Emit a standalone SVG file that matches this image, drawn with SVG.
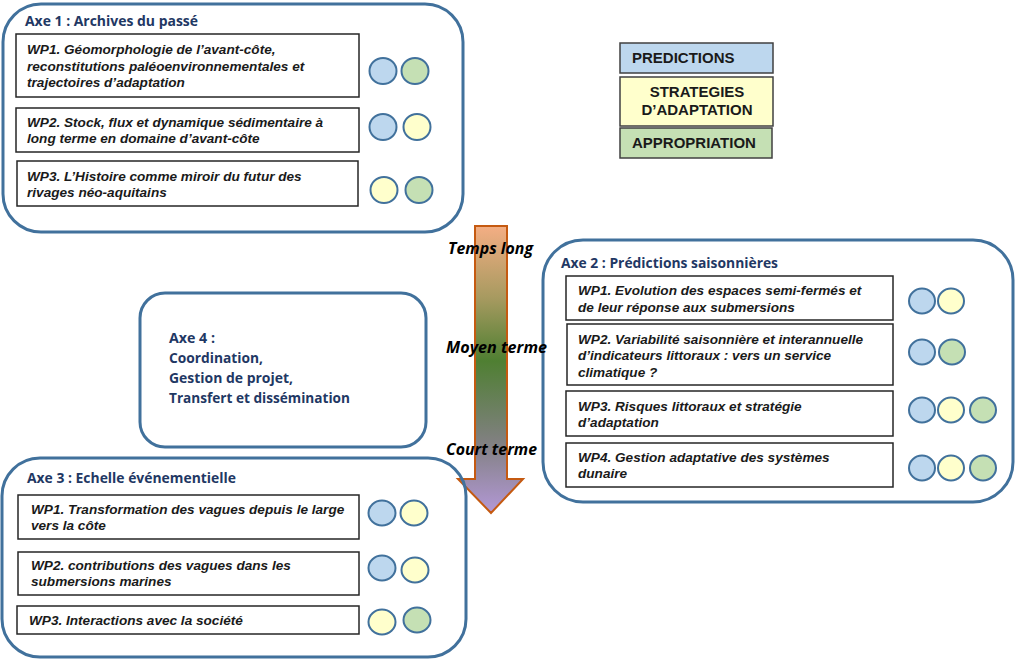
<svg xmlns="http://www.w3.org/2000/svg" width="1019" height="662" viewBox="0 0 1019 662">
  <defs>
    <linearGradient id="timeGrad" x1="0" y1="0" x2="0" y2="1">
      <stop offset="0" stop-color="#f4ae84"/>
      <stop offset="0.25" stop-color="#a79a60"/>
      <stop offset="0.47" stop-color="#4f7f32"/>
      <stop offset="0.75" stop-color="#808080"/>
      <stop offset="1" stop-color="#b398d6"/>
    </linearGradient>
  </defs>
  <style>
    .axe { fill: none; stroke: #41719c; stroke-width: 3; }
    .wp { fill: #ffffff; stroke: #262626; stroke-width: 1.5; }
    .title { font-family: "Open Sans", "Noto Sans", sans-serif; font-weight: 700; font-size: 15px; fill: #1f3864; }
    .wpt { font-family: "Liberation Sans", Arial, sans-serif; font-weight: bold; font-style: italic; font-size: 13.6px; fill: #1a1a1a; }
    .leg { font-family: "Liberation Sans", Arial, sans-serif; font-weight: bold; font-size: 15px; fill: #1a1a1a; }
    .time { font-family: "Open Sans", "Noto Sans", sans-serif; font-weight: 700; font-style: italic; font-size: 16px; fill: #000000; }
    .dot { stroke: #41719c; stroke-width: 2; }
    .b { fill: #bdd7ee; }
    .y { fill: #ffffcc; }
    .g { fill: #c5e0b4; }
    .legbox { stroke: #404040; stroke-width: 1.5; }
  </style>

  <rect width="1019" height="662" fill="#ffffff"/>

  <!-- time arrow: long term to short term -->
  <g id="timeline">
    <path d="M475,226 H507 V479 H523 L491,513 L458,479 H475 Z" fill="url(#timeGrad)" stroke="#c55a11" stroke-width="2" stroke-linejoin="miter"/>
  </g>

  <!-- legend -->
  <g id="legend">
    <rect class="legbox b" x="620" y="43" width="153" height="30"/>
    <text class="leg" x="632" y="63">PREDICTIONS</text>
    <rect class="legbox y" x="620" y="77" width="153" height="49"/>
    <text class="leg" x="697" y="97" text-anchor="middle">STRATEGIES</text>
    <text class="leg" x="697" y="115" text-anchor="middle">D’ADAPTATION</text>
    <rect class="legbox g" x="620" y="128" width="152" height="30"/>
    <text class="leg" x="632" y="148">APPROPRIATION</text>
  </g>

  <!-- Axe 1 -->
  <g id="axe1">
    <rect class="axe" x="3" y="4" width="460" height="228" rx="38" ry="38"/>
    <text class="title" x="25" y="26" textLength="173" lengthAdjust="spacingAndGlyphs">Axe 1 : Archives du passé</text>
    <g id="axe1-wp1">
      <rect class="wp" x="16" y="34" width="343" height="63"/>
      <text class="wpt" x="27" y="54">WP1. Géomorphologie de l’avant-côte,</text>
      <text class="wpt" x="27" y="71">reconstitutions paléoenvironnementales et</text>
      <text class="wpt" x="27" y="87">trajectoires d’adaptation</text>
      <ellipse class="dot b" cx="383" cy="71" rx="13.5" ry="13"/>
      <ellipse class="dot g" cx="415" cy="71" rx="13.5" ry="13"/>
    </g>
    <g id="axe1-wp2">
      <rect class="wp" x="16" y="108" width="343" height="44"/>
      <text class="wpt" x="27" y="127">WP2. Stock, flux et dynamique sédimentaire à</text>
      <text class="wpt" x="27" y="143">long terme en domaine d’avant-côte</text>
      <ellipse class="dot b" cx="383" cy="127" rx="13.5" ry="13"/>
      <ellipse class="dot y" cx="417" cy="127" rx="13.5" ry="13"/>
    </g>
    <g id="axe1-wp3">
      <rect class="wp" x="17" y="161" width="341" height="45"/>
      <text class="wpt" x="27" y="181">WP3. L’Histoire comme miroir du futur des</text>
      <text class="wpt" x="27" y="197">rivages néo-aquitains</text>
      <ellipse class="dot y" cx="384" cy="190" rx="13.5" ry="13"/>
      <ellipse class="dot g" cx="419" cy="190" rx="13.5" ry="13"/>
    </g>
  </g>

  <!-- Axe 2 -->
  <g id="axe2">
    <rect class="axe" x="543" y="240" width="470" height="262" rx="40" ry="40"/>
    <text class="title" x="561" y="268" textLength="217" lengthAdjust="spacingAndGlyphs">Axe 2 : Prédictions saisonnières</text>
    <g id="axe2-wp1">
      <rect class="wp" x="566" y="276" width="327" height="44"/>
      <text class="wpt" x="578" y="295">WP1. Evolution des espaces semi-fermés et</text>
      <text class="wpt" x="578" y="312">de leur réponse aux submersions</text>
      <ellipse class="dot b" cx="922" cy="301" rx="13" ry="12.5"/>
      <ellipse class="dot y" cx="951" cy="301" rx="13" ry="12.5"/>
    </g>
    <g id="axe2-wp2">
      <rect class="wp" x="567" y="324" width="326" height="61"/>
      <text class="wpt" x="578" y="344">WP2. Variabilité saisonnière et interannuelle</text>
      <text class="wpt" x="578" y="360">d’indicateurs littoraux : vers un service</text>
      <text class="wpt" x="578" y="377">climatique ?</text>
      <ellipse class="dot b" cx="922" cy="352" rx="13" ry="12.5"/>
      <ellipse class="dot g" cx="952" cy="352" rx="13" ry="12.5"/>
    </g>
    <g id="axe2-wp3">
      <rect class="wp" x="566" y="391" width="327" height="45"/>
      <text class="wpt" x="578" y="411">WP3. Risques littoraux et stratégie</text>
      <text class="wpt" x="578" y="427">d’adaptation</text>
      <ellipse class="dot b" cx="922" cy="410" rx="13" ry="12.5"/>
      <ellipse class="dot y" cx="951" cy="410" rx="13" ry="12.5"/>
      <ellipse class="dot g" cx="983" cy="410" rx="13" ry="12.5"/>
    </g>
    <g id="axe2-wp4">
      <rect class="wp" x="566" y="443" width="327" height="44"/>
      <text class="wpt" x="578" y="462">WP4. Gestion adaptative des systèmes</text>
      <text class="wpt" x="578" y="478">dunaire</text>
      <ellipse class="dot b" cx="922" cy="468" rx="13" ry="12.5"/>
      <ellipse class="dot y" cx="951" cy="468" rx="13" ry="12.5"/>
      <ellipse class="dot g" cx="983" cy="468" rx="13" ry="12.5"/>
    </g>
  </g>

  <!-- Axe 3 -->
  <g id="axe3">
    <rect class="axe" x="2" y="458" width="464" height="199" rx="38" ry="38"/>
    <text class="title" x="27" y="483" textLength="209" lengthAdjust="spacingAndGlyphs">Axe 3 : Echelle événementielle</text>
    <g id="axe3-wp1">
      <rect class="wp" x="18" y="495" width="341" height="44"/>
      <text class="wpt" x="31" y="514">WP1. Transformation des vagues depuis le large</text>
      <text class="wpt" x="31" y="530">vers la côte</text>
      <ellipse class="dot b" cx="382" cy="513" rx="13.5" ry="12.5"/>
      <ellipse class="dot y" cx="414" cy="513" rx="13.5" ry="12.5"/>
    </g>
    <g id="axe3-wp2">
      <rect class="wp" x="18" y="552" width="341" height="43"/>
      <text class="wpt" x="31" y="570">WP2. contributions des vagues dans les</text>
      <text class="wpt" x="31" y="586">submersions marines</text>
      <ellipse class="dot b" cx="382" cy="568" rx="13.5" ry="12.5"/>
      <ellipse class="dot y" cx="415" cy="570" rx="13.5" ry="12.5"/>
    </g>
    <g id="axe3-wp3">
      <rect class="wp" x="17" y="606" width="342" height="28"/>
      <text class="wpt" x="29" y="625">WP3. Interactions avec la société</text>
      <ellipse class="dot y" cx="382" cy="622" rx="13.5" ry="12.5"/>
      <ellipse class="dot g" cx="417" cy="620" rx="13.5" ry="12.5"/>
    </g>
  </g>

  <!-- Axe 4 -->
  <g id="axe4">
    <rect class="axe" x="140" y="293" width="286" height="154" rx="25" ry="25"/>
    <text class="title" x="169" y="343" textLength="46" lengthAdjust="spacingAndGlyphs">Axe 4 :</text>
    <text class="title" x="169" y="363" textLength="94" lengthAdjust="spacingAndGlyphs">Coordination,</text>
    <text class="title" x="169" y="383" textLength="124" lengthAdjust="spacingAndGlyphs">Gestion de projet,</text>
    <text class="title" x="169" y="403" textLength="181" lengthAdjust="spacingAndGlyphs">Transfert et dissémination</text>
  </g>

  <!-- time scale labels -->
  <g id="time-labels">
    <text class="time" x="448" y="254" textLength="85" lengthAdjust="spacingAndGlyphs">Temps long</text>
    <text class="time" x="446" y="353" textLength="101" lengthAdjust="spacingAndGlyphs">Moyen terme</text>
    <text class="time" x="446" y="455" textLength="91" lengthAdjust="spacingAndGlyphs">Court terme</text>
  </g>
</svg>
